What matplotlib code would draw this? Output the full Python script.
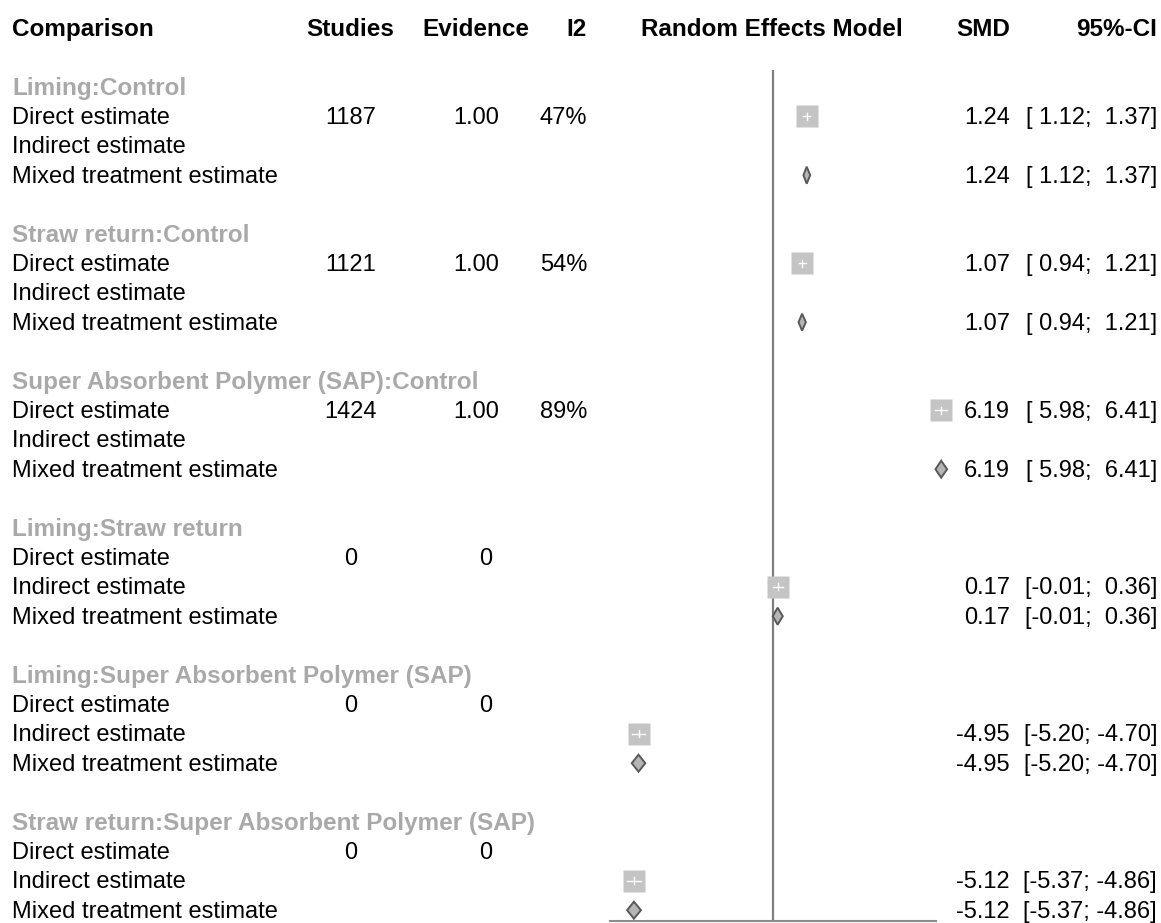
import matplotlib.pyplot as plt
from matplotlib.patches import Polygon

plt.rcParams['font.family'] = ['Liberation Sans', 'DejaVu Sans']

comparisons = ["Liming:Control", "Straw return:Control",
               "Super Absorbent Polymer (SAP):Control", "Liming:Straw return",
               "Liming:Super Absorbent Polymer (SAP)",
               "Straw return:Super Absorbent Polymer (SAP)"]
studies = ["1187", "1121", "1424", "0", "0", "0"]
evidence = ["1.00", "1.00", "1.00", "0", "0", "0"]
i2 = ["47%", "54%", "89%", "", "", ""]

# direct / indirect estimates (None = not available)
direct_smd = [1.24, 1.07, 6.19, None, None, None]
direct_lo = [1.12, 0.94, 5.98, None, None, None]
direct_hi = [1.37, 1.21, 6.41, None, None, None]
indirect_smd = [None, None, None, 0.17, -4.95, -5.12]
indirect_lo = [None, None, None, -0.01, -5.20, -5.37]
indirect_hi = [None, None, None, 0.36, -4.70, -4.86]
mixed_smd = [1.24, 1.07, 6.19, 0.17, -4.95, -5.12]
mixed_lo = [1.12, 0.94, 5.98, -0.01, -5.20, -5.37]
mixed_hi = [1.37, 1.21, 6.41, 0.36, -4.70, -4.86]

row_labels = ["Direct estimate", "Indirect estimate", "Mixed treatment estimate"]

W, H = 1161, 923
fig = plt.figure(figsize=(W / 100, H / 100), dpi=100)
ax = fig.add_axes([0, 0, 1, 1])
ax.set_xlim(0, W)
ax.set_ylim(H, 0)
ax.axis('off')

fs = 17
fsb = 17.5
grey_title = '#a9a9a9'
dy = 1.5  # small nudge so text sits like the original

def fmt(v):
  return '%.2f' % v

def ci(lo, hi):
  return '[%5s; %5s]' % (fmt(lo), fmt(hi))

# header
hy = 28 + dy
ax.text(12, hy, "Comparison", fontsize=fsb, fontweight='bold', va='center')
ax.text(350, hy, "Studies", fontsize=fsb, fontweight='bold', va='center', ha='center')
ax.text(476, hy, "Evidence", fontsize=fsb, fontweight='bold', va='center', ha='center')
ax.text(587, hy, "I2", fontsize=fsb, fontweight='bold', va='center', ha='right')
ax.text(772, hy, "Random Effects Model", fontsize=fsb, fontweight='bold', va='center', ha='center')
ax.text(1010, hy, "SMD", fontsize=fsb, fontweight='bold', va='center', ha='right')
ax.text(1157, hy, "95%-CI", fontsize=fsb, fontweight='bold', va='center', ha='right')

# forest axes
x0, x1 = 610, 936
fx = fig.add_axes([x0 / W, 2 / H, (x1 - x0) / W, 1 - 2 / H])
fx.set_xlim(-6, 6)
fx.set_ylim(H - 2, 0)
fx.patch.set_alpha(0)
for s in ['top', 'left', 'right']:
  fx.spines[s].set_visible(False)
fx.spines['bottom'].set_color('#8c8c8c')
fx.spines['bottom'].set_linewidth(1.5)
fx.set_xticks([])
fx.set_yticks([])
fx.vlines(0, 70, H - 2, color='#7f7f7f', lw=1.6, zorder=1)

step = 29.4
for g, name in enumerate(comparisons):
  ty = 87 + g * 5 * step
  ax.text(12, ty + dy, name, fontsize=fsb, fontweight='bold', color=grey_title, va='center')
  for k, lab in enumerate(row_labels):
    ax.text(12, ty + (k + 1) * step + dy, lab, fontsize=fs, va='center')
  yd = ty + step + dy
  ax.text(351, yd, studies[g], fontsize=fs, va='center', ha='center')
  ax.text(476 if evidence[g] != '0' else 486, yd, evidence[g], fontsize=fs, va='center', ha='center')
  ax.text(587, yd, i2[g], fontsize=fs, va='center', ha='right')

  # squares for direct / indirect
  for k, (est, lo, hi) in enumerate([(direct_smd[g], direct_lo[g], direct_hi[g]),
                                     (indirect_smd[g], indirect_lo[g], indirect_hi[g])]):
    if est is None:
      continue
    y = ty + (k + 1) * step
    fx.plot(est, y, marker='s', ms=16.3, mfc='#c4c4c4', mec='none', zorder=3, clip_on=False)
    fx.plot([lo, hi], [y, y], color='white', lw=1, zorder=4, clip_on=False)
    fx.plot([est, est], [y - 3.5, y + 3.5], color='white', lw=1, zorder=4, clip_on=False)
    ax.text(1010, y + dy, fmt(est), fontsize=fs, va='center', ha='right')
    ax.text(1157, y + dy, ci(lo, hi), fontsize=fs, va='center', ha='right')

  # diamond for mixed
  y = ty + 3 * step
  est, lo, hi = mixed_smd[g], mixed_lo[g], mixed_hi[g]
  fx.add_patch(Polygon([[lo, y], [est, y - 8.5], [hi, y], [est, y + 8.5]],
                       closed=True, fc='#b5b5b5', ec='#595959', lw=1.4, zorder=3,
                       clip_on=False))
  ax.text(1010, y + dy, fmt(est), fontsize=fs, va='center', ha='right')
  ax.text(1157, y + dy, ci(lo, hi), fontsize=fs, va='center', ha='right')

fig.savefig('out.png', dpi=100)
